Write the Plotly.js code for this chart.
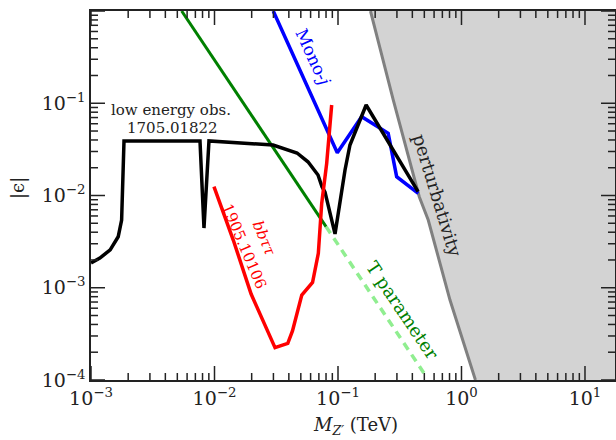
<!DOCTYPE html>
<html><head><meta charset="utf-8">
<script src="https://cdn.plot.ly/plotly-3.0.1.min.js"></script>
<style>html,body{margin:0;padding:0;background:#fff}</style>
</head><body><div id="chart" style="width:616px;height:440px"></div>
<script>
// Low energy observables (1705.01822)
const lowEnergyX = [0.001, 0.00118, 0.00143, 0.00166, 0.00177, 0.00185, 0.00763, 0.00822, 0.00902, 0.0194, 0.0298, 0.0466, 0.0571, 0.0689, 0.0742, 0.0785, 0.0946, 0.114, 0.125, 0.169, 0.445];
const lowEnergyY = [0.00185, 0.0021, 0.00257, 0.00357, 0.00542, 0.039, 0.039, 0.00444, 0.039, 0.0366, 0.0353, 0.0289, 0.0232, 0.0167, 0.01245, 0.0109, 0.00383, 0.0189, 0.0353, 0.0957, 0.011];
// Mono-j
const monoX = [0.0299, 0.0815, 0.0987, 0.1555, 0.255, 0.2985, 0.4467];
const monoY = [1.0, 0.0513, 0.0291, 0.0715, 0.0472, 0.016, 0.01057];
// bb tau tau (1905.10106)
const bbttX = [0.0099, 0.01419, 0.0198, 0.0309, 0.0392, 0.0428, 0.0509, 0.0622, 0.0693, 0.0738, 0.081, 0.0889];
const bbttY = [0.01245, 0.00329, 0.000855, 0.000224, 0.00025, 0.00034, 0.000834, 0.00114, 0.00236, 0.0082, 0.0223, 0.0957];
// T parameter
const tparX = [0.00542, 0.08];
const tparY = [1.0, 0.0046];
const tparDashX = [0.08, 0.5];
const tparDashY = [0.0046, 0.000117];
// Perturbativity boundary
const pertX = [0.1833, 0.2805, 0.455, 0.538, 0.807, 1.297];
const pertY = [1.0, 0.1084, 0.0097, 0.00542, 0.000736, 0.0001];
// Tick labels
const xTickVals = [0.001, 0.01, 0.1, 1, 10];
const xTickText = ['10<sup>−3</sup>', '10<sup>−2</sup>', '10<sup>−1</sup>', '10<sup>0</sup>', '10<sup>1</sup>'];
const yTickVals = [0.0001, 0.001, 0.01, 0.1, 1];
const yTickText = ['10<sup>−4</sup>', '10<sup>−3</sup>', '10<sup>−2</sup>', '10<sup>−1</sup>', '10<sup>0</sup>'];

const FONT = 'DejaVu Serif, Liberation Serif, serif';
const X_RANGE = [-3, 1.243];
const Y_RANGE = [-4, 0];
const W = 616, H = 440, M = {l: 91, r: 1, t: 11, b: 60};
const PW = W - M.l - M.r, PH = H - M.t - M.b;

const xMax = Math.pow(10, X_RANGE[1] + 1), yMin = Math.pow(10, Y_RANGE[0] - 1), yMax = Math.pow(10, Y_RANGE[1] + 1);

// Axis tick marks (inside, all four sides, major + minor), drawn through the log axes
function tickTrace() {
  const tx = [], ty = [];
  function seg(x0, y0, x1, y1) { tx.push(x0, x1, null); ty.push(y0, y1, null); }
  const ySpan = Y_RANGE[1] - Y_RANGE[0], xSpan = X_RANGE[1] - X_RANGE[0];
  function xt(v, len) {
    const lv = Math.log10(v); if (lv < X_RANGE[0] - 1e-9 || lv > X_RANGE[1] + 1e-9) return;
    const d = len / PH * ySpan;
    seg(v, Math.pow(10, Y_RANGE[0]), v, Math.pow(10, Y_RANGE[0] + d));
    seg(v, Math.pow(10, Y_RANGE[1]), v, Math.pow(10, Y_RANGE[1] - d));
  }
  function yt(v, len) {
    const lv = Math.log10(v); if (lv < Y_RANGE[0] - 1e-9 || lv > Y_RANGE[1] + 1e-9) return;
    const d = len / PW * xSpan;
    seg(Math.pow(10, X_RANGE[0]), v, Math.pow(10, X_RANGE[0] + d), v);
    seg(Math.pow(10, X_RANGE[1]), v, Math.pow(10, X_RANGE[1] - d), v);
  }
  for (let e = Math.floor(X_RANGE[0]); e <= Math.ceil(X_RANGE[1]); e++) {
    xt(Math.pow(10, e), 14);
    for (let m = 2; m <= 9; m++) xt(m * Math.pow(10, e), 7);
  }
  for (let e = Math.floor(Y_RANGE[0]); e <= Math.ceil(Y_RANGE[1]); e++) {
    yt(Math.pow(10, e), 14);
    for (let m = 2; m <= 9; m++) yt(m * Math.pow(10, e), 7);
  }
  return {x: tx, y: ty, mode: 'lines', connectgaps: false, line: {color: '#222', width: 1.5},
          hoverinfo: 'skip', showlegend: false};
}

const traces = [
  { x: pertX.concat([xMax, xMax]), y: pertY.concat([yMin, yMax]), fill: 'toself', fillcolor: '#d3d3d3',
    mode: 'lines', line: {width: 0, color: '#d3d3d3'}, hoverinfo: 'skip', showlegend: false },
  { x: pertX, y: pertY, mode: 'lines', line: {color: '#808080', width: 3}, showlegend: false },
  { x: tparDashX, y: tparDashY, mode: 'lines', line: {color: '#90ee90', width: 3.5, dash: '8px,6px'}, showlegend: false },
  { x: tparX, y: tparY, mode: 'lines', line: {color: '#008000', width: 3}, showlegend: false },
  { x: monoX, y: monoY, mode: 'lines', line: {color: '#0000ff', width: 3.5}, showlegend: false },
  { x: lowEnergyX, y: lowEnergyY, mode: 'lines', line: {color: '#000000', width: 3.5}, showlegend: false },
  { x: bbttX, y: bbttY, mode: 'lines', line: {color: '#ff0000', width: 3.5}, showlegend: false },
  tickTrace()
];

function px(x) { return (x - M.l) / PW; }
function py(y) { return (H - M.b - y) / PH; }

function makeAxis(range, vals, text) {
  return {
    type: 'log', range: range, showline: true, linecolor: '#222', linewidth: 1.5, mirror: true,
    ticks: '', showgrid: false, zeroline: false,
    tickmode: 'array', tickvals: vals, ticktext: text,
    tickfont: {family: FONT, size: 19, color: '#222'}
  };
}

function ann(x, y, text, size, color, angle) {
  return {xref: 'paper', yref: 'paper', x: px(x), y: py(y), xanchor: 'center', yanchor: 'middle',
          text: text, textangle: angle || 0, showarrow: false, font: {family: FONT, size: size, color: color}};
}

const layout = {
  width: W, height: H,
  margin: M,
  paper_bgcolor: '#fff', plot_bgcolor: '#fff',
  showlegend: false,
  xaxis: makeAxis(X_RANGE, xTickVals, xTickText),
  yaxis: makeAxis([Y_RANGE[0] - 0.0002, Y_RANGE[1] + 0.0002], yTickVals, yTickText),
  annotations: [
    ann(355, 426, '<i>M</i><sub><i>Z′</i></sub> (TeV)', 18, '#222'),
    ann(18, 188, '|ϵ|', 18, '#222', -90),
    ann(171, 110, 'low energy obs.', 15, '#222'),
    ann(172, 128, '1705.01822', 15, '#222'),
    ann(313, 57, 'Mono-<i>j</i>', 17, '#0000ff', 65),
    ann(437, 196, 'perturbativity', 18, '#222', 73),
    ann(403, 310, 'T parameter', 18, '#008000', 56),
    ann(264, 238, '<i>bbττ</i>', 15, '#ff0000', 67),
    ann(244, 246, '1905.10106', 15, '#ff0000', 67)
  ]
};

Plotly.newPlot('chart', traces, layout, {displayModeBar: false});
</script>
</body></html>
